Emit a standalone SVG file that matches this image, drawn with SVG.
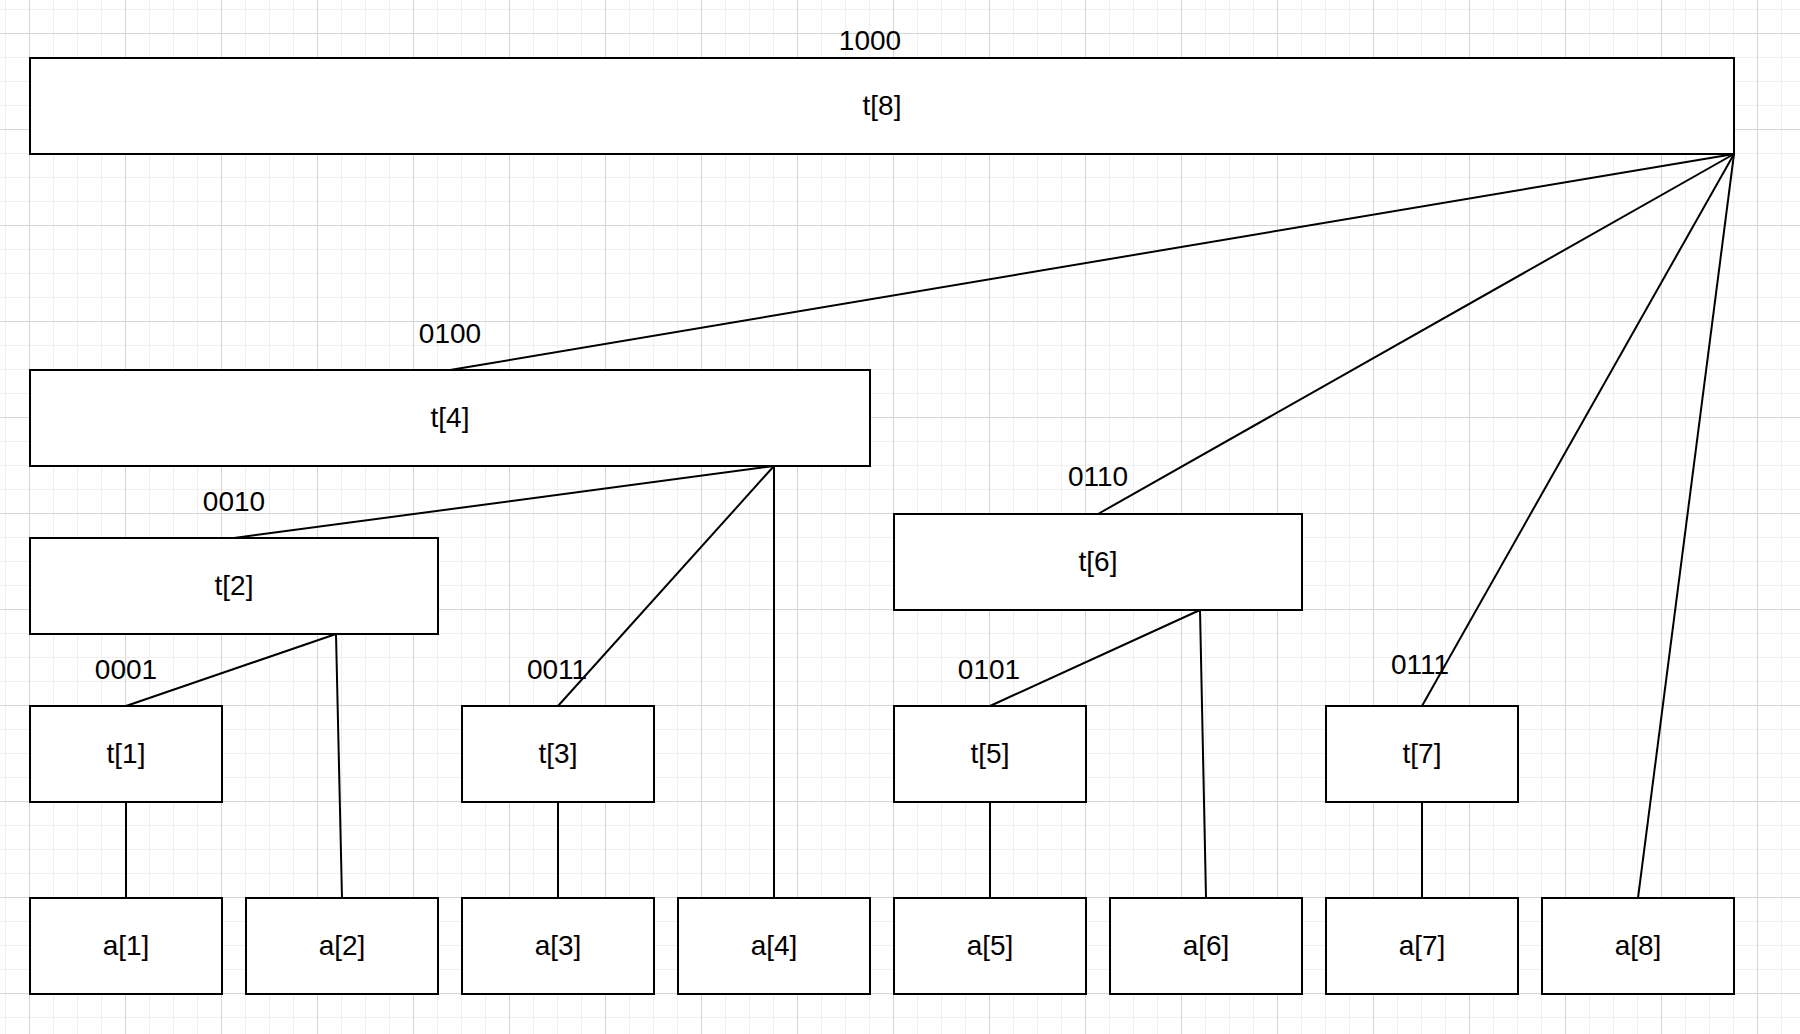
<svg xmlns="http://www.w3.org/2000/svg" width="1800" height="1034" viewBox="0 0 1800 1034">
  <defs>
    <pattern id="grid" patternUnits="userSpaceOnUse" x="29" y="33" width="96" height="96">
      <path d="M24.5 0V96M48.5 0V96M72.5 0V96M0 24.5H96M0 48.5H96M0 72.5H96" stroke="#f0f0f0" stroke-width="1" fill="none"/>
      <path d="M0.5 0V96M0 0.5H96" stroke="#d5d5d5" stroke-width="1" fill="none"/>
    </pattern>
  </defs>
  <style>
    .box { fill: #ffffff; stroke: #000000; stroke-width: 2; }
    .lbl { font-family: "Liberation Sans", Arial, Helvetica, sans-serif; font-size: 28px; fill: #000000; text-anchor: middle; }
    .edge { stroke: #000000; stroke-width: 2; fill: none; }
  </style>
  <rect x="0" y="0" width="1800" height="1034" fill="#ffffff"/>
  <rect x="0" y="0" width="1800" height="1034" fill="url(#grid)"/>

  <g id="connectors" class="edge">
    <line x1="1734" y1="154" x2="450" y2="370"/>
    <line x1="1734" y1="154" x2="1098" y2="514"/>
    <line x1="1734" y1="154" x2="1422" y2="706"/>
    <line x1="1734" y1="154" x2="1638" y2="898"/>
    <line x1="774" y1="466" x2="234" y2="538"/>
    <line x1="774" y1="466" x2="558" y2="706"/>
    <line x1="774" y1="466" x2="774" y2="898"/>
    <line x1="336" y1="634" x2="126" y2="706"/>
    <line x1="336" y1="634" x2="342" y2="898"/>
    <line x1="1200" y1="610" x2="990" y2="706"/>
    <line x1="1200" y1="610" x2="1206" y2="898"/>
    <line x1="126" y1="802" x2="126" y2="898"/>
    <line x1="558" y1="802" x2="558" y2="898"/>
    <line x1="990" y1="802" x2="990" y2="898"/>
    <line x1="1422" y1="802" x2="1422" y2="898"/>
  </g>

  <g id="t8">
    <rect class="box" x="30" y="58" width="1704" height="96"/>
    <text class="lbl" x="882" y="114.5">t[8]</text>
    <text class="lbl" x="870" y="49.5">1000</text>
  </g>
  <g id="t4">
    <rect class="box" x="30" y="370" width="840" height="96"/>
    <text class="lbl" x="450" y="426.5">t[4]</text>
    <text class="lbl" x="450" y="343">0100</text>
  </g>
  <g id="t2">
    <rect class="box" x="30" y="538" width="408" height="96"/>
    <text class="lbl" x="234" y="594.5">t[2]</text>
    <text class="lbl" x="234" y="511">0010</text>
  </g>
  <g id="t6">
    <rect class="box" x="894" y="514" width="408" height="96"/>
    <text class="lbl" x="1098" y="570.5">t[6]</text>
    <text class="lbl" x="1098" y="486">0110</text>
  </g>
  <g id="t1">
    <rect class="box" x="30" y="706" width="192" height="96"/>
    <text class="lbl" x="126" y="762.5">t[1]</text>
    <text class="lbl" x="126" y="679">0001</text>
  </g>
  <g id="t3">
    <rect class="box" x="462" y="706" width="192" height="96"/>
    <text class="lbl" x="558" y="762.5">t[3]</text>
    <text class="lbl" x="557" y="678.5">0011</text>
  </g>
  <g id="t5">
    <rect class="box" x="894" y="706" width="192" height="96"/>
    <text class="lbl" x="990" y="762.5">t[5]</text>
    <text class="lbl" x="989" y="678.5">0101</text>
  </g>
  <g id="t7">
    <rect class="box" x="1326" y="706" width="192" height="96"/>
    <text class="lbl" x="1422" y="762.5">t[7]</text>
    <text class="lbl" x="1420" y="673.5">0111</text>
  </g>
  <g id="a1">
    <rect class="box" x="30" y="898" width="192" height="96"/>
    <text class="lbl" x="126" y="954.5">a[1]</text>
  </g>
  <g id="a2">
    <rect class="box" x="246" y="898" width="192" height="96"/>
    <text class="lbl" x="342" y="954.5">a[2]</text>
  </g>
  <g id="a3">
    <rect class="box" x="462" y="898" width="192" height="96"/>
    <text class="lbl" x="558" y="954.5">a[3]</text>
  </g>
  <g id="a4">
    <rect class="box" x="678" y="898" width="192" height="96"/>
    <text class="lbl" x="774" y="954.5">a[4]</text>
  </g>
  <g id="a5">
    <rect class="box" x="894" y="898" width="192" height="96"/>
    <text class="lbl" x="990" y="954.5">a[5]</text>
  </g>
  <g id="a6">
    <rect class="box" x="1110" y="898" width="192" height="96"/>
    <text class="lbl" x="1206" y="954.5">a[6]</text>
  </g>
  <g id="a7">
    <rect class="box" x="1326" y="898" width="192" height="96"/>
    <text class="lbl" x="1422" y="954.5">a[7]</text>
  </g>
  <g id="a8">
    <rect class="box" x="1542" y="898" width="192" height="96"/>
    <text class="lbl" x="1638" y="954.5">a[8]</text>
  </g>
</svg>
